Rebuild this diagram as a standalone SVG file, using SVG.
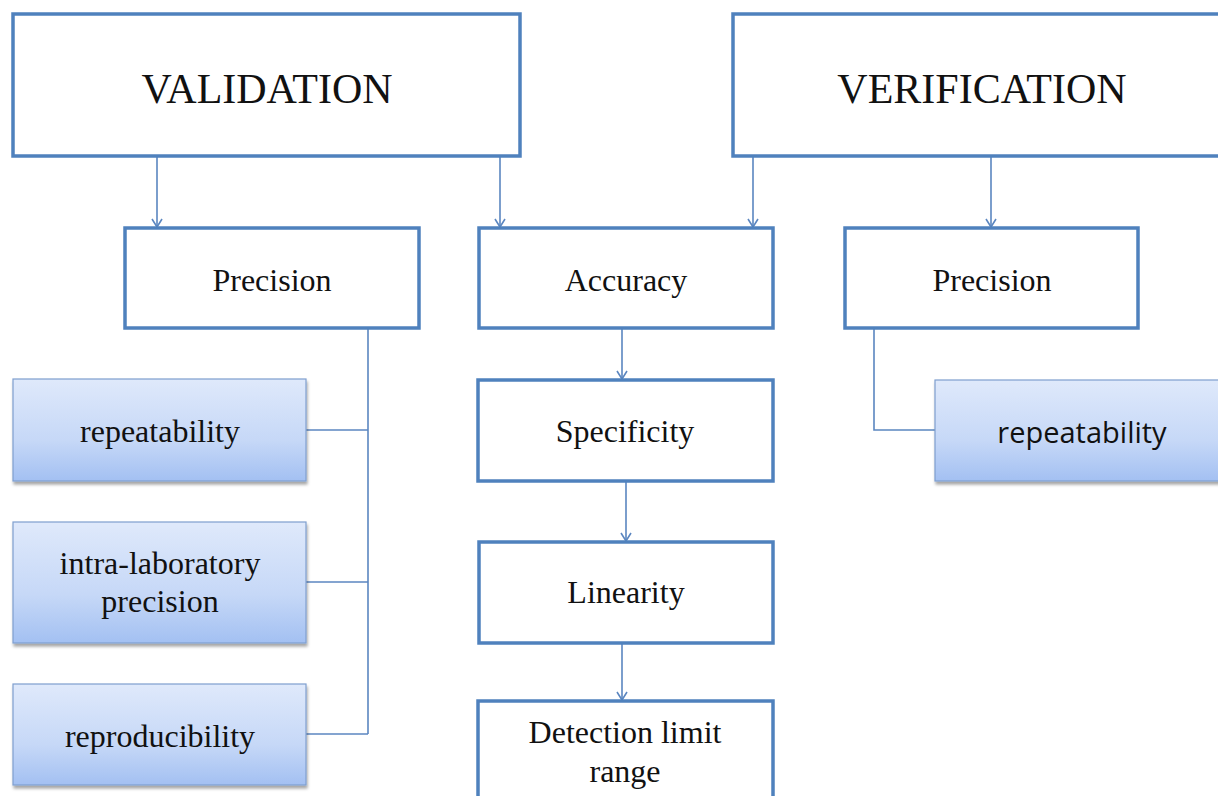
<svg xmlns="http://www.w3.org/2000/svg" width="1218" height="796" viewBox="0 0 1218 796">
<style>
.box{fill:#fff;stroke:#4f81bd;stroke-width:3.5}
.blue{fill:url(#bg);stroke:#7f9fcf;stroke-width:1.2;filter:url(#sh)}
.t{font-family:"Liberation Serif","Times New Roman",serif;fill:#111;text-anchor:middle}
.big{font-size:42px}
.mid{font-size:32px}
.sans{font-family:"Open Sans","Noto Sans",sans-serif;fill:#111;text-anchor:middle;font-size:29px}
.c{fill:none;stroke:#5b86c0;stroke-width:1.6}
.a{marker-end:url(#ah)}
</style>
<defs>
<linearGradient id="bg" x1="0" y1="0" x2="0" y2="1">
<stop offset="0" stop-color="#dfe9fb"/>
<stop offset="0.6" stop-color="#c6d8f7"/>
<stop offset="1" stop-color="#a3c0f2"/>
</linearGradient>
<filter id="sh" x="-5%" y="-5%" width="115%" height="120%">
<feDropShadow dx="1" dy="3" stdDeviation="1.5" flood-color="#000" flood-opacity="0.35"/>
</filter>
<marker id="ah" viewBox="0 0 12 12" refX="11" refY="6" markerWidth="12" markerHeight="12" markerUnits="userSpaceOnUse" orient="auto">
<path d="M3,1 L11,6 L3,11" fill="none" stroke="#5b86c0" stroke-width="1.6"/>
</marker>
</defs>
<g id="connectors">
<path class="c a" d="M157,156 V227"/>
<path class="c a" d="M500,156 V227"/>
<path class="c a" d="M753,156 V227"/>
<path class="c a" d="M991,156 V227"/>
<path class="c a" d="M622,328 V379"/>
<path class="c a" d="M626,481 V541"/>
<path class="c a" d="M622,643 V700"/>
<path class="c" d="M368,328 V734"/>
<path class="c" d="M306,430 H368"/>
<path class="c" d="M306,582 H368"/>
<path class="c" d="M306,734 H368"/>
<path class="c" d="M874,328 V430 H935"/>
</g>
<g id="validation">
<rect class="box" x="13" y="14" width="507" height="142"/>
<text class="t big" x="267" y="103">VALIDATION</text>
</g>
<g id="verification">
<rect class="box" x="733" y="14" width="500" height="142"/>
<text class="t big" x="982" y="103">VERIFICATION</text>
</g>
<g id="precision-left">
<rect class="box" x="125" y="228" width="294" height="100"/>
<text class="t mid" x="272" y="291">Precision</text>
</g>
<g id="accuracy">
<rect class="box" x="479" y="228" width="294" height="100"/>
<text class="t mid" x="626" y="291">Accuracy</text>
</g>
<g id="precision-right">
<rect class="box" x="845" y="228" width="293" height="100"/>
<text class="t mid" x="992" y="291">Precision</text>
</g>
<g id="specificity">
<rect class="box" x="478" y="380" width="295" height="101"/>
<text class="t mid" x="625" y="442">Specificity</text>
</g>
<g id="linearity">
<rect class="box" x="479" y="542" width="294" height="101"/>
<text class="t mid" x="626" y="603">Linearity</text>
</g>
<g id="detection">
<rect class="box" x="478" y="701" width="295" height="110"/>
<text class="t mid" x="625" y="743">Detection limit</text>
<text class="t mid" x="625" y="782">range</text>
</g>
<g id="repeatability-left">
<rect class="blue" x="13" y="379" width="293" height="102"/>
<text class="t mid" x="160" y="442">repeatability</text>
</g>
<g id="intra-lab">
<rect class="blue" x="13" y="522" width="293" height="121"/>
<text class="t mid" x="160" y="574">intra-laboratory</text>
<text class="t mid" x="160" y="612">precision</text>
</g>
<g id="reproducibility">
<rect class="blue" x="13" y="684" width="293" height="101"/>
<text class="t mid" x="160" y="747">reproducibility</text>
</g>
<g id="repeatability-right">
<rect class="blue" x="935" y="380" width="300" height="101"/>
<text class="sans" x="1082" y="443">repeatability</text>
</g>
</svg>
